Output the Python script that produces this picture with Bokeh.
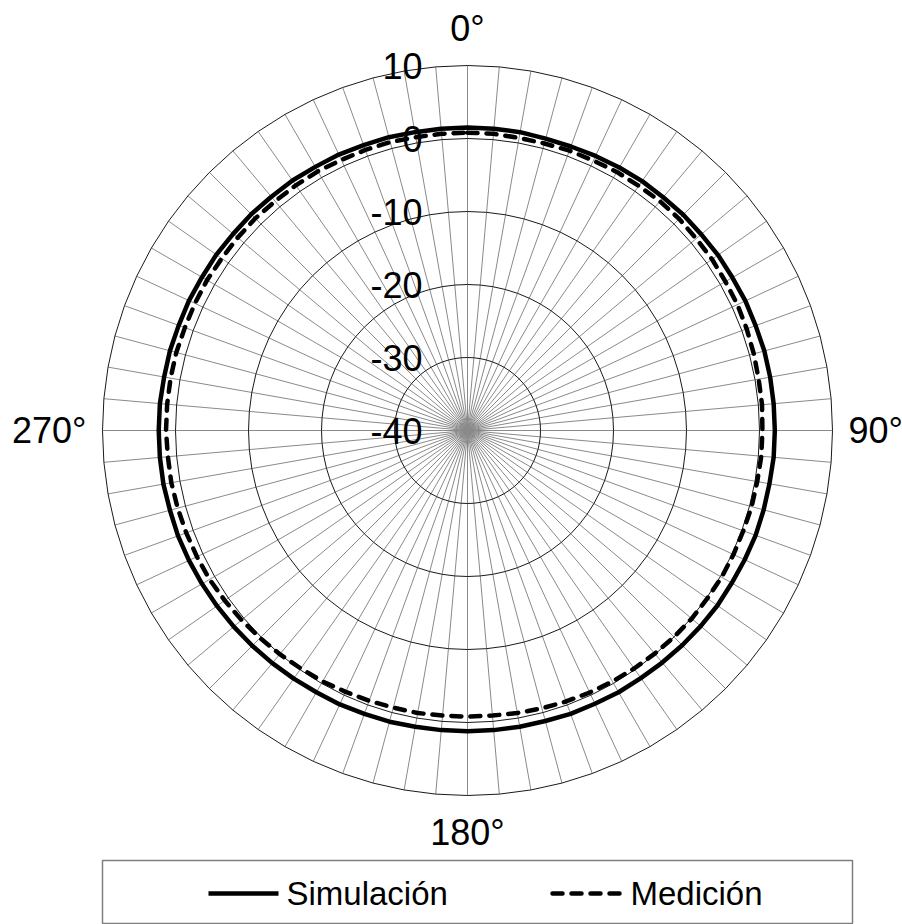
import numpy as np
from bokeh.plotting import figure
from bokeh.models import Range1d
from bokeh.core.properties import value
from bokeh.embed import file_html
from bokeh.resources import INLINE

# ---------------- data ----------------
angles_deg = list(range(0, 360, 5))

simulacion = [
    1.5, 1.5, 1.5, 1.4, 1.4, 1.5, 1.6, 1.7, 1.7, 1.8, 1.8, 1.9,
    1.9, 2.0, 2.0, 2.1, 2.1, 2.1, 2.1, 2.1, 2.0, 2.0, 2.0, 1.9,
    1.8, 1.8, 1.7, 1.6, 1.5, 1.4, 1.4, 1.3, 1.3, 1.2, 1.2, 1.2,
    1.2, 1.2, 1.2, 1.3, 1.3, 1.4, 1.4, 1.5, 1.6, 1.7, 1.8, 1.9,
    2.0, 2.1, 2.2, 2.2, 2.3, 2.3, 2.3, 2.3, 2.2, 2.2, 2.1, 2.1,
    2.0, 2.0, 1.9, 1.9, 1.8, 1.8, 1.7, 1.7, 1.6, 1.6, 1.5, 1.5,
]

medicion = [
    0.8, 0.8, 0.7, 0.7, 0.8, 0.8, 0.9, 0.9, 1.0, 1.0, 0.9, 0.9,
    0.8, 0.8, 0.7, 0.6, 0.5, 0.5, 0.4, 0.4, 0.3, 0.3, 0.2, 0.2,
    0.2, 0.1, 0.1, 0.0, -0.1, -0.2, -0.3, -0.4, -0.5, -0.6, -0.7, -0.8,
    -0.8, -0.8, -0.7, -0.7, -0.6, -0.5, -0.3, -0.2, 0.0, 0.2, 0.4, 0.6,
    0.8, 0.9, 1.0, 1.1, 1.2, 1.2, 1.3, 1.3, 1.3, 1.3, 1.2, 1.2,
    1.2, 1.1, 1.1, 1.1, 1.0, 1.0, 1.0, 0.9, 0.9, 0.9, 0.8, 0.8,
]

ring_levels = [-40, -30, -20, -10, 0, 10]
ring_labels = ["-40", "-30", "-20", "-10", "0", "10"]
angle_label_text = ["0°", "90°", "180°", "270°"]
series_names = ["Simulación", "Medición"]

R_MIN, R_MAX = -40, 10

# ---------------- layout helpers (pixels -> data units) ----------------
S = 7.3                      # px per dB
CX, CY = 467, 430            # centre of polar chart in pixels
W, H = 902, 924


def dx(px):
    return (px - CX) / S


def dy(py):
    return (CY - py) / S


p = figure(width=W, height=H, output_backend="svg", toolbar_location=None,
           x_range=Range1d(dx(0), dx(W)), y_range=Range1d(dy(H), dy(0)),
           x_axis_type=None, y_axis_type=None, min_border=0,
           outline_line_color=None, background_fill_color="white",
           border_fill_color="white")
p.grid.visible = False

theta = np.deg2rad(np.array(angles_deg, dtype=float))
sin_t, cos_t = np.sin(theta), np.cos(theta)
span = R_MAX - R_MIN

# spokes
p.segment(x0=np.zeros_like(theta), y0=np.zeros_like(theta),
          x1=span * sin_t, y1=span * cos_t,
          line_color="#8a8a8a", line_width=1)

# rings (polygons)
for lvl in ring_levels[1:]:
    r = lvl - R_MIN
    p.patch(r * sin_t, r * cos_t, fill_color=None, line_color="#1a1a1a",
            line_width=1)

# series
r_sim = np.array(simulacion, dtype=float) - R_MIN
p.patch(r_sim * sin_t, r_sim * cos_t, fill_color=None, line_color="black",
        line_width=4.5, line_join="round")

r_med = np.array(medicion, dtype=float) - R_MIN
p.patch(r_med * sin_t, r_med * cos_t, fill_color=None, line_color="black",
        line_width=4.5, line_dash="10 9", line_cap="round", line_join="round")

FONT = value("Liberation Sans")

# radial value labels
p.text(x=[dx(422)] * len(ring_levels), y=[lvl - R_MIN for lvl in ring_levels],
       text=ring_labels, text_align="right", text_baseline="middle",
       text_font=FONT, text_font_size="36px", text_color="black")

# angle labels
p.text(x=[0], y=[dy(27.5)], text=[angle_label_text[0]], text_align="center",
       text_baseline="middle", text_font=FONT, text_font_size="36px", text_color="black")
p.text(x=[dx(848)], y=[0], text=[angle_label_text[1]], text_align="left",
       text_baseline="middle", text_font=FONT, text_font_size="36px", text_color="black")
p.text(x=[0], y=[dy(831.5)], text=[angle_label_text[2]], text_align="center",
       text_baseline="middle", text_font=FONT, text_font_size="36px", text_color="black")
p.text(x=[dx(86)], y=[0], text=[angle_label_text[3]], text_align="right",
       text_baseline="middle", text_font=FONT, text_font_size="36px", text_color="black")

# legend box
p.quad(left=[dx(102)], right=[dx(852)], top=[dy(860)], bottom=[dy(923)],
       fill_color="white", line_color="#7f7f7f", line_width=1.5)
ly = dy(893)
p.line([dx(208), dx(278)], [ly, ly], line_color="black", line_width=4.5)
p.line([dx(552), dx(622)], [ly, ly], line_color="black", line_width=4.5,
       line_dash="10 9", line_cap="round")
p.text(x=[dx(286)], y=[ly], text=[series_names[0]], text_align="left",
       text_baseline="middle", text_font=FONT, text_font_size="33px", text_color="black")
p.text(x=[dx(630)], y=[ly], text=[series_names[1]], text_align="left",
       text_baseline="middle", text_font=FONT, text_font_size="33px", text_color="black")

open("out.html", "w").write(file_html(p, INLINE))
